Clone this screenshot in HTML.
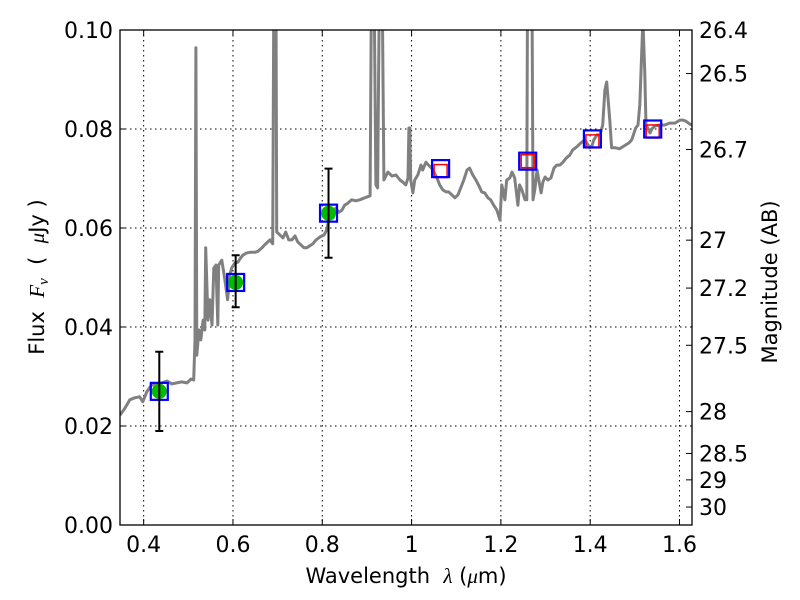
<!DOCTYPE html>
<html><head><meta charset="utf-8"><style>
body{margin:0;background:#fff;}
svg{display:block;font-family:"DejaVu Sans","Liberation Sans",sans-serif;}
</style></head><body>
<svg id="chart" width="800" height="600">
<rect width="800" height="600" fill="#fff"/>
<defs><clipPath id="plotclip"><rect x="120" y="30" width="572" height="495"/></clipPath></defs>
<g id="grid"></g>
<g id="spec" clip-path="url(#plotclip)"></g>
<g id="marks"></g>
<rect x="120" y="30" width="572" height="495" fill="none" stroke="#000" stroke-width="1.3"/>
<g id="axes"></g>
<text x="406" y="583" font-size="21" text-anchor="middle">Wavelength&#160;&#160;<tspan font-style="italic" font-family="Liberation Serif, serif">λ</tspan>&#160;(<tspan font-style="italic" font-family="Liberation Serif, serif">μ</tspan>m)</text>
<text transform="translate(44,277) rotate(-90)" font-size="21" text-anchor="middle">Flux&#160;&#160;<tspan font-style="italic" font-family="Liberation Serif, serif">F<tspan font-size="15" dy="4">ν</tspan></tspan><tspan dy="-4">&#160;&#160;(&#160;&#160;</tspan><tspan font-style="italic" font-family="Liberation Serif, serif">μ</tspan>Jy&#160;)</text>
<text transform="translate(777,282) rotate(-90)" font-size="21" text-anchor="middle">Magnitude (AB)</text>
</svg>
<script>
const specWave=[0.347,0.358,0.369,0.380,0.391,0.398,0.407,0.418,0.430,0.441,0.452,0.463,0.474,0.485,0.497,0.506,0.512,0.515,0.517,0.519,0.524,0.528,0.533,0.537,0.539,0.544,0.548,0.553,0.557,0.562,0.566,0.568,0.575,0.582,0.588,0.593,0.597,0.604,0.611,0.615,0.622,0.629,0.638,0.649,0.656,0.665,0.671,0.678,0.683,0.689,0.692,0.696,0.698,0.705,0.712,0.718,0.725,0.732,0.739,0.745,0.752,0.759,0.765,0.772,0.779,0.786,0.795,0.804,0.810,0.817,0.824,0.830,0.837,0.844,0.850,0.857,0.866,0.875,0.884,0.895,0.907,0.911,0.915,0.920,0.924,0.929,0.933,0.938,0.947,0.956,0.965,0.974,0.980,0.987,0.992,0.994,0.996,0.998,1.003,1.007,1.014,1.021,1.025,1.032,1.038,1.045,1.050,1.057,1.063,1.070,1.077,1.083,1.090,1.097,1.104,1.110,1.117,1.124,1.130,1.137,1.144,1.151,1.157,1.164,1.171,1.177,1.184,1.191,1.198,1.202,1.209,1.213,1.220,1.225,1.231,1.238,1.242,1.247,1.254,1.258,1.260,1.269,1.272,1.276,1.281,1.285,1.290,1.294,1.299,1.305,1.312,1.319,1.325,1.332,1.339,1.346,1.354,1.361,1.370,1.379,1.388,1.395,1.399,1.404,1.408,1.415,1.422,1.428,1.433,1.437,1.444,1.448,1.457,1.466,1.473,1.480,1.487,1.493,1.502,1.507,1.511,1.518,1.522,1.525,1.529,1.534,1.538,1.545,1.556,1.567,1.578,1.590,1.601,1.608,1.614,1.623,1.628];
const specFlux=[0.0222,0.0236,0.0253,0.0257,0.0259,0.0249,0.0269,0.0283,0.0283,0.0287,0.0291,0.0285,0.0287,0.0289,0.0287,0.0295,0.0293,0.0374,0.0964,0.0343,0.0394,0.0374,0.0414,0.0394,0.0560,0.0414,0.0455,0.0404,0.0519,0.0525,0.0404,0.0525,0.0535,0.0495,0.0455,0.0505,0.0519,0.0529,0.0531,0.0537,0.0545,0.0549,0.0551,0.0551,0.0553,0.0560,0.0566,0.0572,0.0576,0.0568,0.12,0.12,0.0592,0.0586,0.0580,0.0592,0.0576,0.0576,0.0584,0.0572,0.0566,0.0560,0.0560,0.0564,0.0568,0.0576,0.0582,0.0586,0.0596,0.0626,0.0620,0.0640,0.0632,0.0636,0.0646,0.0650,0.0657,0.0655,0.0657,0.0661,0.0665,0.12,0.12,0.0687,0.0681,0.12,0.12,0.0697,0.0713,0.0705,0.0707,0.0697,0.0693,0.0687,0.0701,0.0802,0.0802,0.0697,0.0671,0.0697,0.0707,0.0727,0.0717,0.0733,0.0727,0.0721,0.0713,0.0701,0.0687,0.0677,0.0673,0.0673,0.0667,0.0661,0.0667,0.0681,0.0697,0.0717,0.0721,0.0707,0.0697,0.0685,0.0673,0.0671,0.0661,0.0657,0.0646,0.0636,0.0616,0.0687,0.0657,0.0697,0.0701,0.0713,0.0701,0.0646,0.0687,0.0677,0.0657,0.0657,0.12,0.12,0.0657,0.0677,0.0717,0.0697,0.0671,0.0693,0.0703,0.0697,0.0701,0.0721,0.0727,0.0727,0.0733,0.0741,0.0747,0.0758,0.0764,0.0772,0.0778,0.0768,0.0762,0.0766,0.0778,0.0788,0.0788,0.0808,0.0879,0.0895,0.0818,0.0762,0.0762,0.0760,0.0764,0.0768,0.0772,0.0778,0.0802,0.0808,0.0849,0.102,0.0919,0.0808,0.0802,0.0792,0.0800,0.0806,0.0808,0.0808,0.0812,0.0812,0.0818,0.0818,0.0816,0.0810,0.0808];
const obsWave=[0.435,0.606,0.814];
const obsFlux=[0.027,0.049,0.063];
const obsErrLo=[0.019,0.044,0.054];
const obsErrHi=[0.035,0.0545,0.072];
const synWave=[0.435,0.606,0.814,1.065,1.26,1.405,1.54];
const synFlux=[0.027,0.049,0.063,0.072,0.0735,0.078,0.080];
const modWave=[1.065,1.26,1.405,1.54];
const modFlux=[0.0715,0.0735,0.0775,0.0795];
const xTicks=[0.4,0.6,0.8,1.0,1.2,1.4,1.6];
const xTickLabels=["0.4","0.6","0.8","1","1.2","1.4","1.6"];
const yTicks=[0,0.02,0.04,0.06,0.08,0.1];
const yTickLabels=["0.00","0.02","0.04","0.06","0.08","0.10"];
const magTicks=[26.4,26.5,26.7,27,27.2,27.5,28,28.5,29,30];
const magTickLabels=["26.4","26.5","26.7","27","27.2","27.5","28","28.5","29","30"];

const X0=120,X1=692,Y0=525,Y1=30,XMIN=0.347,XMAX=1.628,YMIN=0,YMAX=0.1;
const sx=v=>X0+(v-XMIN)/(XMAX-XMIN)*(X1-X0);
const sy=v=>Y0-(v-YMIN)/(YMAX-YMIN)*(Y0-Y1);
const NS='http://www.w3.org/2000/svg';
function mk(tag,attrs,parent){const e=document.createElementNS(NS,tag);for(const k in attrs)e.setAttribute(k,attrs[k]);parent.appendChild(e);return e;}
const grid=document.getElementById('grid'),axes=document.getElementById('axes'),spec=document.getElementById('spec'),marks=document.getElementById('marks');

xTicks.forEach((t,i)=>{const x=sx(t);
 const g=mk('line',{x1:x,x2:x,y1:Y1,y2:Y0,stroke:'#000','stroke-width':1,'stroke-dasharray':'1.5,3.5'},grid);
 
 
 const a=mk('line',{x1:x,x2:x,y1:Y0,y2:Y0-6,stroke:'#000'},axes);
 
 
 const b=mk('line',{x1:x,x2:x,y1:Y1,y2:Y1+6,stroke:'#000'},axes);
 
 
 const l=mk('text',{x:x,y:Y0+27,'font-size':22,'text-anchor':'middle'},axes);l.textContent=xTickLabels[i];
 
 
});
yTicks.forEach((t,i)=>{const y=sy(t);
 if(t>0&&t<0.1){const g=mk('line',{x1:X0,x2:X1,y1:y,y2:y,stroke:'#000','stroke-width':1,'stroke-dasharray':'1.5,3.5'},grid);
 
 }
 const a=mk('line',{x1:X0,x2:X0+6,y1:y,y2:y,stroke:'#000'},axes);
 
 
 const l=mk('text',{x:X0-7,y:y+8,'font-size':22,'text-anchor':'end'},axes);l.textContent=yTickLabels[i];
 
 
});
magTicks.forEach((m,i)=>{const f=Math.pow(10,(23.9-m)/2.5);const y=sy(f);
 const a=mk('line',{x1:X1-6,x2:X1,y1:y,y2:y,stroke:'#000'},axes);
 
 
 const l=mk('text',{x:X1+7,y:y+8,'font-size':22},axes);l.textContent=magTickLabels[i];
 
 
});
const pts=specWave.map((w,i)=>sx(w).toFixed(1)+','+sy(specFlux[i]).toFixed(1)).join(' ');
const pl=mk('polyline',{points:pts,fill:'none',stroke:'#808080','stroke-width':3,'stroke-linejoin':'round'},spec);



modWave.forEach((w,i)=>{const x=sx(w),y=sy(modFlux[i]);
 const r=mk('rect',{x:x-6.5,y:y-6.5,width:13,height:13,fill:'none',stroke:'#f00','stroke-width':1.5},marks);
 
 
});
obsWave.forEach((w,i)=>{const x=sx(w);
 const c=mk('circle',{cx:x,cy:sy(obsFlux[i]),r:7.5,fill:'#00bb00'},marks);
 
 
});
synWave.forEach((w,i)=>{const x=sx(w),y=sy(synFlux[i]);
 const r=mk('rect',{x:x-8.5,y:y-8.5,width:17,height:17,fill:'none',stroke:'#0000ff','stroke-width':2.2},marks);
 
 
});
obsWave.forEach((w,i)=>{const x=sx(w),ylo=sy(obsErrLo[i]),yhi=sy(obsErrHi[i]);
 const e=mk('path',{d:`M${x},${ylo}V${yhi}M${x-4},${ylo}H${x+4}M${x-4},${yhi}H${x+4}`,stroke:'#000','stroke-width':2,fill:'none'},marks);
 
 
});
</script>
</body></html>
